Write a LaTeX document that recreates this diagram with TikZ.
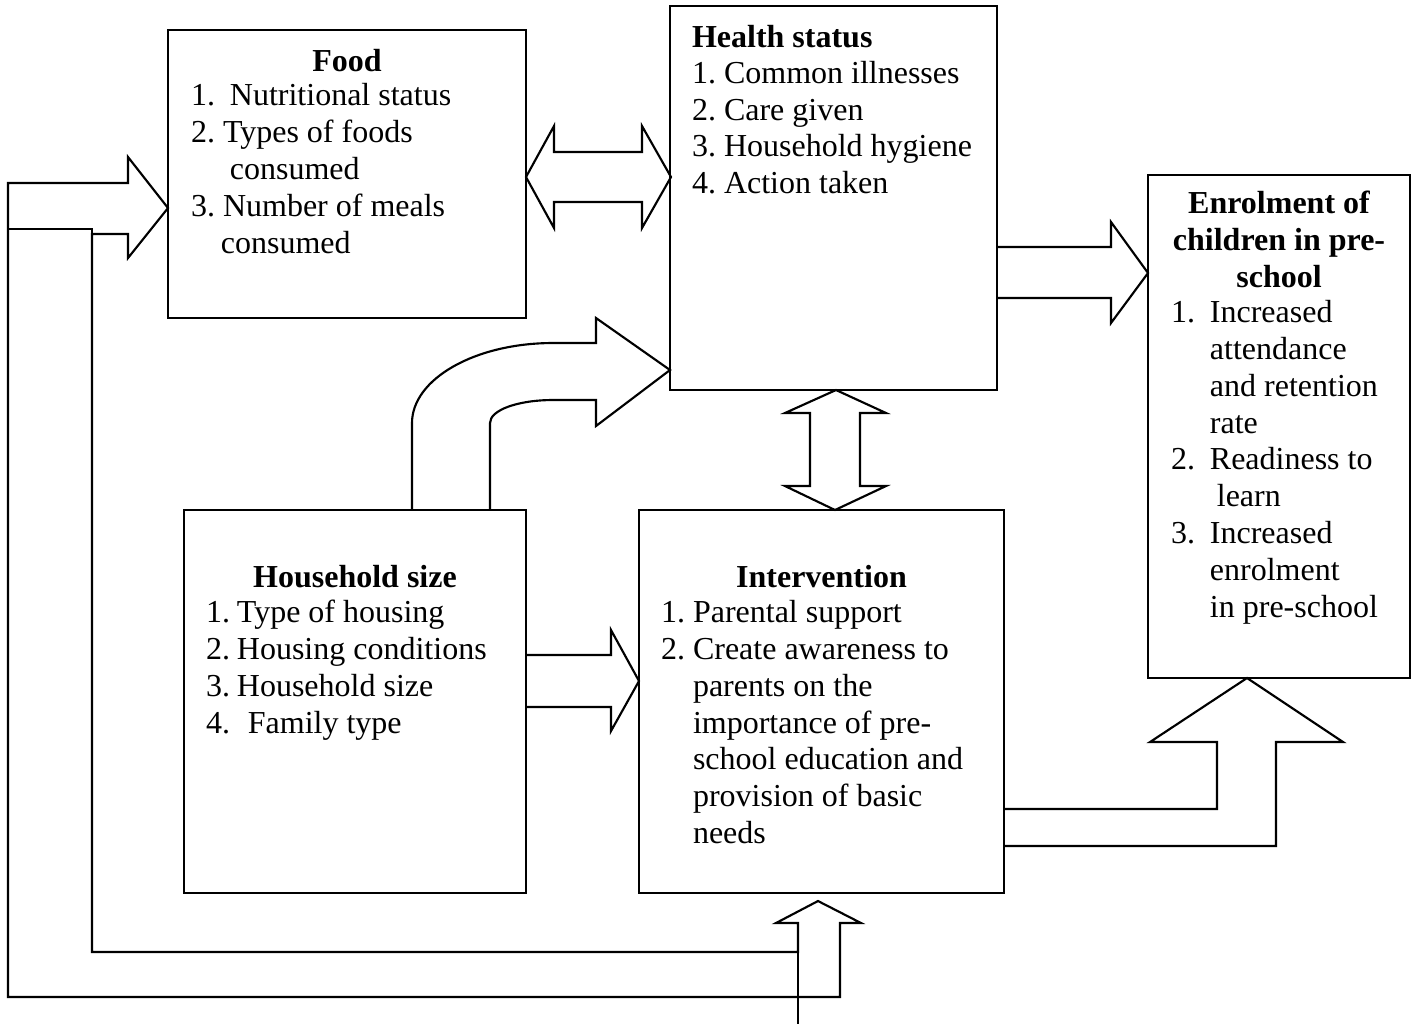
\documentclass[tikz,border=0pt]{standalone}
\usepackage{fontspec}
\setmainfont{Liberation Serif}
\usetikzlibrary{fit}
\begin{document}
\begin{tikzpicture}[x=0.375pt,y=-0.375pt,
  box/.style={draw,line width=0.8pt,inner sep=0pt,outer sep=0pt},
  blockarrow/.style={draw,fill=white,line width=0.8pt,line join=miter},
  thinline/.style={draw,line width=0.8pt},
  title/.style={font=\fontsize{12}{13.8}\selectfont\bfseries,inner sep=0pt,outer sep=0pt},
  list/.style={font=\fontsize{12}{13.8}\selectfont,inner sep=0pt,outer sep=0pt,align=left,anchor=north west}]
\useasboundingbox[fill=white] (0,0) rectangle (1415,1024);

% food <-> health
\path[blockarrow] (526,177) -- (554,126) -- (554,152) -- (642,152) -- (642,126) -- (671,177)
  -- (642,228) -- (642,202) -- (554,202) -- (554,228) -- cycle;

% health -> enrolment
\path[blockarrow] (997,247) -- (1111,247) -- (1111,222) -- (1148,273) -- (1111,323) -- (1111,298) -- (997,298);

% household -> intervention
\path[blockarrow] (526,655) -- (611,655) -- (611,630) -- (639,681) -- (611,731) -- (611,707) -- (526,707);

% health <-> intervention
\path[blockarrow] (836,390) -- (886,413) -- (860,413) -- (860,486) -- (886,486) -- (835,510)
  -- (785,486) -- (810,486) -- (810,413) -- (785,413) -- cycle;

% household -> health (curved)
\path[blockarrow] (412,510) -- (412,423) .. controls (412,379) and (475,343) .. (553,343)
  -- (596,343) -- (596,318) -- (670,370) -- (596,426) -- (596,400) -- (553,400)
  .. controls (518,400) and (490,410) .. (490,423) -- (490,510);

% intervention -> enrolment
\path[blockarrow] (1004,809) -- (1217,809) -- (1217,742) -- (1150,742) -- (1247,678) -- (1343,742)
  -- (1276,742) -- (1276,846) -- (1004,846);

% big left / bottom arrow
\path[blockarrow] (8,183) -- (128,183) -- (128,157) -- (168,208) -- (128,258) -- (128,234)
  -- (92,234) -- (92,952) -- (798,952) -- (798,923) -- (776,923) -- (818,901) -- (861,923)
  -- (840,923) -- (840,997) -- (8,997) -- cycle;
\path[thinline] (8,229) -- (92,229) -- (92,234);
\coordinate (tail) at (798,1024);
\path[thinline,line width=1pt] (798,923) -- (tail);

% boxes
\node[box,fit={(168,30) (526,318)}] (food) {};
\node[box,fit={(670,6) (997,390)}] (health) {};
\node[box,fit={(1148,175) (1410,678)}] (enrol) {};
\node[box,fit={(184,510) (526,893)}] (house) {};
\node[box,fit={(639,510) (1004,893)}] (interv) {};

% texts
\node[title,anchor=base] (foodT) at (347,71) {Food};
\node[list] (foodL) at (191,80.2) {\strut\makebox[14.6pt][l]{1.}Nutritional status\\
\makebox[12pt][l]{2.}Types of foods\\
\hspace*{14.6pt}consumed\\
\makebox[12pt][l]{3.}Number of meals\\
\hspace*{11.2pt}consumed};

\node[title,anchor=base west] (healthT) at (692,47) {Health status};
\node[list] (healthL) at (692,57.5) {\strut\makebox[12pt][l]{1.}Common illnesses\\
\makebox[12pt][l]{2.}Care given\\
\makebox[12pt][l]{3.}Household hygiene\\
\makebox[12pt][l]{4.}Action taken};

\node[title,anchor=north,align=center] (enrolT) at (1279,188) {\strut Enrolment of\\children in pre-\\school};
\node[list] (enrolL) at (1171,297) {\strut\makebox[14.6pt][l]{1.}Increased\\
\hspace*{14.6pt}attendance\\
\hspace*{14.6pt}and retention\\
\hspace*{14.6pt}rate\\
\makebox[14.6pt][l]{2.}Readiness to\\
\hspace*{17.2pt}learn\\
\makebox[14.6pt][l]{3.}Increased\\
\hspace*{14.6pt}enrolment\\
\hspace*{14.6pt}in pre-school};

\node[title,anchor=base] (houseT) at (355,587) {Household size};
\node[list] (houseL) at (206,597) {\strut\makebox[11.6pt][l]{1.}Type of housing\\
\makebox[11.6pt][l]{2.}Housing conditions\\
\makebox[11.6pt][l]{3.}Household size\\
\makebox[15.7pt][l]{4.}Family type};

\node[title,anchor=base] (intervT) at (821.5,587) {Intervention};
\node[list] (intervL) at (661,597) {\strut\makebox[12pt][l]{1.}Parental support\\
\makebox[12pt][l]{2.}Create awareness to\\
\hspace*{12pt}parents on the\\
\hspace*{12pt}importance of pre-\\
\hspace*{12pt}school education and\\
\hspace*{12pt}provision of basic\\
\hspace*{12pt}needs};
\end{tikzpicture}
\end{document}
